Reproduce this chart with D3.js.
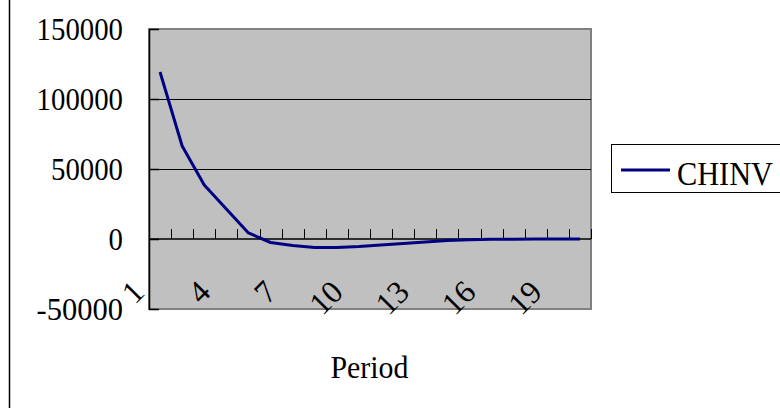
<!DOCTYPE html>
<html><head><meta charset="utf-8">
<script src="https://cdn.jsdelivr.net/npm/d3@7"></script>
<style>body{margin:0;background:#fff}svg{display:block}</style>
</head><body><svg id="c" width="780" height="408"></svg>
<script>
const periods = d3.range(1, 21);
const chinv = [119300, 66400, 38600, 21400, 4300, -2500, -4600, -6000, -6000, -5400, -4300, -3200, -2100, -1000, -500, -200, -100, 0, 0, 0];
const yTicks = [-50000, 0, 50000, 100000, 150000];
const xLabels = [1, 4, 7, 10, 13, 16, 19];
const seriesName = "CHINV";
const xTitle = "Period";

const svg = d3.select("#c");
const L = 149, R = 591, T = 29, B = 309;
const font = "'Liberation Serif','Times New Roman',serif";

// outer frame
svg.append("rect").attr("x", 9.5).attr("y", -2).attr("width", 800).attr("height", 420)
  .attr("fill", "none").attr("stroke", "#000").attr("stroke-width", 1.5);

const x = d3.scaleBand().domain(periods).range([L, R]);
const y = d3.scaleLinear().domain([-50000, 150000]).range([B, T]);

// plot area
svg.append("rect").attr("x", L).attr("y", T).attr("width", R - L).attr("height", B - T)
  .attr("fill", "#c0c0c0").attr("stroke", "#808080").attr("stroke-width", 2);

// gridlines
svg.append("g").selectAll("line").data(yTicks.filter(d => d > -50000 && d < 150000 && d !== 0)).join("line")
  .attr("x1", L).attr("x2", R).attr("y1", d => Math.round(y(d)) + 0.5).attr("y2", d => Math.round(y(d)) + 0.5)
  .attr("stroke", "#000").attr("stroke-width", 1);

// y axis
const yAxis = svg.append("g").attr("transform", `translate(${L},0)`)
  .call(d3.axisLeft(y).tickValues(yTicks).tickSizeInner(-10).tickSizeOuter(0).tickPadding(26).tickFormat(d => String(d)));
yAxis.select(".domain").attr("stroke", "#000").attr("stroke-width", 1.5);
yAxis.selectAll(".tick line").attr("stroke", "#000").attr("stroke-width", 1.5);
yAxis.selectAll(".tick text").attr("font-family", font).attr("font-size", 31).attr("fill", "#000")
  .attr("dy", "0.35em")
  .attr("textLength", function(d){ return String(d).length * 14.4; })
  .attr("lengthAdjust", "spacingAndGlyphs");

// x axis at zero
const x0 = y(0);
const xAxis = svg.append("g").attr("transform", `translate(0,${x0})`);
xAxis.append("line").attr("x1", L).attr("x2", R).attr("y1", 0).attr("y2", 0).attr("stroke", "#000").attr("stroke-width", 1.5);
const bounds = periods.map(p => x(p)).concat([R]);
xAxis.selectAll("line.tk").data(bounds).join("line").attr("class", "tk")
  .attr("x1", d => Math.round(d) + 0.5).attr("x2", d => Math.round(d) + 0.5).attr("y1", 0).attr("y2", -10)
  .attr("stroke", "#000").attr("stroke-width", 1);

// x labels (rotated, low position)
svg.append("g").selectAll("text").data(xLabels).join("text")
  .attr("transform", d => `translate(${x(d) + x.bandwidth() / 2 - 22},${286}) rotate(-45)`)
  .attr("text-anchor", "end").attr("dy", "0.35em")
  .attr("font-family", font).attr("font-size", 32).attr("fill", "#000")
  .text(d => d);

// line
const line = d3.line().x((d, i) => x(periods[i]) + x.bandwidth() / 2).y(d => y(d));
svg.append("path").datum(chinv).attr("d", line).attr("fill", "none")
  .attr("stroke", "#000080").attr("stroke-width", 3).attr("stroke-linejoin", "round");

// axis title
svg.append("text").attr("x", (L + R) / 2 - 0.5).attr("y", 378).attr("text-anchor", "middle")
  .attr("font-family", font).attr("font-size", 31).attr("fill", "#000")
  .attr("textLength", 78).attr("lengthAdjust", "spacingAndGlyphs").text(xTitle);

// legend
const lg = svg.append("g");
lg.append("rect").attr("x", 611.5).attr("y", 144.5).attr("width", 200).attr("height", 48)
  .attr("fill", "#fff").attr("stroke", "#000").attr("stroke-width", 1);
lg.append("line").attr("x1", 621).attr("x2", 670).attr("y1", 170).attr("y2", 170)
  .attr("stroke", "#000080").attr("stroke-width", 3);
lg.append("text").attr("x", 677).attr("y", 185).attr("font-family", font).attr("font-size", 34)
  .attr("fill", "#000").attr("textLength", 96).attr("lengthAdjust", "spacingAndGlyphs").text(seriesName);
</script></body></html>
